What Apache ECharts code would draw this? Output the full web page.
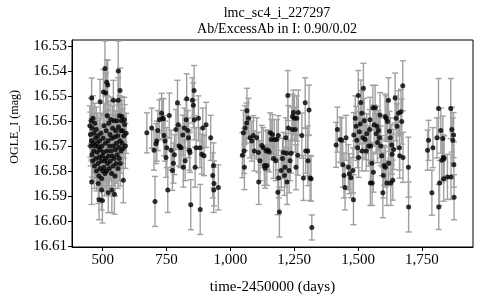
<!DOCTYPE html>
<html>
<head>
<meta charset="utf-8">
<script src="https://cdn.jsdelivr.net/npm/echarts@6/dist/echarts.min.js"></script>
<style>html,body{margin:0;padding:0;background:#fff}#c{width:480px;height:300px}</style>
</head>
<body>
<div id="c"></div>
<script>
// [time-2450000 (days), OGLE_I (mag), error (mag)]
var season1 = [
[509,16.5391,0.011],[561,16.5401,0.012],[516,16.5446,0.009],[520,16.5457,0.010],[503,16.5485,0.009],
[512,16.5489,0.008],[568,16.5479,0.009],[457,16.5509,0.008],[490,16.5524,0.009],[542,16.5518,0.008],
[561,16.5518,0.009],[585,16.5596,0.009],[575,16.5583,0.008],[483,16.5850,0.008],[457,16.5844,0.009],
[496,16.5876,0.008],[486,16.5915,0.008],[499,16.5918,0.009],[522,16.5887,0.008],[536,16.5876,0.009],
[546,16.5893,0.008],[581,16.5837,0.009],
[450,16.5620,0.008],[452,16.5655,0.009],[453,16.5700,0.008],[455,16.5600,0.009],[456,16.5680,0.008],
[458,16.5735,0.009],[459,16.5630,0.008],[461,16.5760,0.008],[462,16.5590,0.009],[463,16.5690,0.008],
[465,16.5720,0.009],[466,16.5650,0.008],[468,16.5780,0.009],[469,16.5610,0.008],[470,16.5700,0.009],
[472,16.5670,0.008],[473,16.5750,0.008],[475,16.5635,0.009],[476,16.5800,0.008],[478,16.5690,0.009],
[479,16.5725,0.008],[481,16.5660,0.009],[482,16.5770,0.008],[484,16.5705,0.008],[485,16.5820,0.009],
[487,16.5745,0.008],[488,16.5680,0.009],[490,16.5790,0.008],[491,16.5715,0.009],[493,16.5650,0.008],
[494,16.5760,0.008],[496,16.5830,0.009],[497,16.5700,0.008],[499,16.5740,0.009],[500,16.5800,0.008],
[502,16.5670,0.009],[503,16.5725,0.008],[505,16.5785,0.008],[506,16.5620,0.009],[508,16.5760,0.008],
[509,16.5810,0.009],[511,16.5690,0.008],[512,16.5750,0.009],[514,16.5640,0.008],[515,16.5800,0.008],
[517,16.5720,0.009],[518,16.5580,0.008],[520,16.5770,0.009],[521,16.5680,0.008],[523,16.5740,0.008],
[524,16.5610,0.009],[526,16.5790,0.008],[527,16.5700,0.009],[529,16.5655,0.008],[530,16.5760,0.008],
[532,16.5595,0.009],[533,16.5720,0.008],[535,16.5810,0.009],[536,16.5670,0.008],[538,16.5740,0.008],
[539,16.5630,0.009],[541,16.5780,0.008],[542,16.5700,0.009],[544,16.5600,0.008],[545,16.5750,0.008],
[547,16.5665,0.009],[548,16.5820,0.008],[550,16.5715,0.009],[551,16.5640,0.008],[553,16.5770,0.008],
[554,16.5690,0.009],[556,16.5600,0.008],[557,16.5735,0.009],[559,16.5660,0.008],[560,16.5790,0.008],
[562,16.5625,0.009],[563,16.5705,0.008],[565,16.5750,0.009],[566,16.5580,0.008],[568,16.5680,0.008],
[569,16.5770,0.009],[571,16.5640,0.008],[572,16.5720,0.009],[574,16.5600,0.008],[576,16.5690,0.008],
[578,16.5640,0.009],[580,16.5710,0.008],[583,16.5660,0.009],[586,16.5615,0.008],[589,16.5700,0.009],
[592,16.5650,0.008]
];
var season2 = [
[673,16.5648,0.008],[692,16.5629,0.008],[705,16.5922,0.010],[701,16.5717,0.008],[709,16.5691,0.008],
[712,16.5681,0.008],[716,16.5639,0.008],[722,16.5596,0.008],[731,16.5570,0.008],[733,16.5590,0.008],
[738,16.5592,0.008],[740,16.5659,0.008],[744,16.5681,0.008],[748,16.5746,0.008],[751,16.5707,0.008],
[755,16.5876,0.009],[761,16.5579,0.009],[768,16.5717,0.008],[773,16.5798,0.008],[777,16.5769,0.008],
[781,16.5735,0.008],[787,16.5635,0.008],[793,16.5528,0.009],[796,16.5616,0.008],[799,16.5700,0.008],
[803,16.5704,0.008],[807,16.5707,0.008],[814,16.5657,0.008],[816,16.5785,0.008],[820,16.5629,0.008],
[823,16.5759,0.008],[827,16.5596,0.008],[829,16.5512,0.010],[833,16.5639,0.008],[836,16.5668,0.008],
[840,16.5717,0.008],[842,16.5726,0.008],[845,16.5935,0.010],[851,16.5518,0.009],[855,16.5538,0.009],
[858,16.5479,0.010],[859,16.5596,0.008],[862,16.5785,0.008],[866,16.5707,0.008],[875,16.5590,0.009],
[881,16.5707,0.008],[882,16.5954,0.010],[888,16.5733,0.008],[892,16.5629,0.008],[897,16.5739,0.008],
[905,16.5616,0.009],[923,16.5668,0.009],[931,16.5818,0.009],[934,16.5778,0.009],[935,16.5876,0.009],
[936,16.5850,0.009],[953,16.5866,0.009]
];
var season3 = [
[1047,16.5737,0.009],[1055,16.5785,0.009],[1054,16.5720,0.009],[1051,16.5648,0.009],[1058,16.5629,0.009],
[1064,16.5609,0.008],[1065,16.5560,0.009],[1071,16.5590,0.008],[1077,16.5668,0.008],[1084,16.5681,0.008],
[1090,16.5659,0.008],[1094,16.5720,0.008],[1103,16.5668,0.008],[1110,16.5726,0.008],[1111,16.5844,0.009],
[1116,16.5759,0.008],[1123,16.5698,0.008],[1129,16.5707,0.008],[1133,16.5778,0.008],[1136,16.5789,0.008],
[1140,16.5720,0.008],[1143,16.5778,0.008],[1147,16.5716,0.008],[1152,16.5724,0.008],[1156,16.5648,0.008],
[1160,16.5675,0.008],[1165,16.5655,0.008],[1169,16.5750,0.008],[1172,16.5675,0.008],[1178,16.5759,0.008],
[1182,16.5675,0.008],[1186,16.5885,0.009],[1188,16.5659,0.008],[1189,16.5828,0.008],[1192,16.5964,0.010],
[1199,16.5798,0.008],[1204,16.5750,0.008],[1208,16.5726,0.008],[1212,16.5818,0.008],[1214,16.5785,0.008],
[1217,16.5668,0.008],[1221,16.5729,0.008],[1222,16.5844,0.009],[1225,16.5499,0.010],[1227,16.5629,0.009],
[1230,16.5798,0.009],[1234,16.5759,0.008],[1238,16.5729,0.008],[1241,16.5635,0.009],[1243,16.5583,0.009],
[1247,16.5567,0.009],[1251,16.5590,0.009],[1254,16.5635,0.009],[1257,16.5785,0.009],[1260,16.5590,0.009],
[1264,16.5737,0.008],[1266,16.5567,0.009],[1280,16.5659,0.009],[1286,16.5828,0.009],[1293,16.5528,0.010],
[1295,16.5720,0.009],[1303,16.5720,0.010],[1304,16.5759,0.010],[1308,16.5557,0.010],[1312,16.5828,0.009],
[1316,16.5831,0.009],[1319,16.6026,0.005]
];
var season4 = [
[1414,16.5696,0.009],[1419,16.5635,0.009],[1430,16.5675,0.009],[1436,16.5678,0.009],[1440,16.5775,0.009],
[1445,16.5818,0.009],[1449,16.5866,0.009],[1453,16.5668,0.009],[1462,16.5785,0.009],[1466,16.5811,0.008],
[1472,16.5827,0.008],[1480,16.5798,0.009],[1482,16.5915,0.010],[1483,16.5657,0.009],[1489,16.5590,0.009],
[1492,16.5622,0.008],[1495,16.5678,0.008],[1498,16.5707,0.008],[1501,16.5499,0.010],[1502,16.5746,0.008],
[1505,16.5644,0.008],[1508,16.5613,0.008],[1511,16.5527,0.009],[1515,16.5570,0.009],[1516,16.5720,0.008],
[1519,16.5668,0.008],[1521,16.5470,0.010],[1524,16.5600,0.009],[1528,16.5675,0.008],[1532,16.5720,0.008],
[1534,16.5652,0.008],[1541,16.5700,0.008],[1545,16.5635,0.008],[1547,16.5596,0.009],[1548,16.5848,0.009],
[1550,16.5700,0.008],[1554,16.5769,0.008],[1555,16.5848,0.009],[1558,16.5548,0.009],[1560,16.5805,0.008],
[1563,16.5616,0.008],[1567,16.5548,0.009],[1571,16.5652,0.008],[1574,16.5622,0.008],[1576,16.5687,0.008],
[1580,16.5639,0.008],[1584,16.5668,0.008],[1586,16.5577,0.009],[1589,16.5700,0.008],[1593,16.5739,0.008],
[1597,16.5887,0.010],[1599,16.5818,0.009],[1602,16.5778,0.008],[1606,16.5583,0.009],[1607,16.5785,0.008],
[1610,16.5590,0.009],[1613,16.5848,0.009],[1615,16.5603,0.008],[1619,16.5518,0.009],[1620,16.5769,0.009],
[1623,16.5642,0.008],[1626,16.5668,0.008],[1628,16.5848,0.009],[1632,16.5696,0.008],[1633,16.5733,0.008],
[1636,16.5837,0.008],[1639,16.5714,0.008],[1645,16.5509,0.010],[1649,16.5590,0.009],[1652,16.5622,0.009],
[1658,16.5570,0.009],[1662,16.5707,0.009],[1663,16.5739,0.009],[1668,16.5564,0.009],[1671,16.5603,0.009],
[1675,16.5460,0.010],[1676,16.5746,0.010],[1697,16.5785,0.012],[1698,16.5944,0.010]
];
var season5 = [
[1772,16.5717,0.008],[1776,16.5678,0.008],[1789,16.5887,0.009],[1793,16.5707,0.008],[1809,16.5668,0.008],
[1815,16.5551,0.012],[1816,16.5944,0.009],[1819,16.5848,0.009],[1824,16.5639,0.009],[1828,16.5757,0.009],
[1832,16.5671,0.009],[1834,16.5746,0.009],[1835,16.5831,0.009],[1837,16.5750,0.009],[1850,16.5824,0.009],
[1863,16.5551,0.012],[1864,16.5824,0.009],[1867,16.5635,0.009],[1871,16.5678,0.009],[1874,16.5657,0.009],
[1875,16.5775,0.009],[1876,16.5905,0.009]
];
var yTicks = [16.53,16.54,16.55,16.56,16.57,16.58,16.59,16.60,16.61];
var xTicks = [500,750,1000,1250,1500,1750];
var titleLines = ['lmc_sc4_i_227297','Ab/ExcessAb in I: 0.90/0.02'];

var allPts = season1.concat(season2, season3, season4, season5);
var FONT = '"Liberation Serif", "DejaVu Serif", serif';

var chart = echarts.init(document.getElementById('c'), null, {renderer:'canvas'});
chart.setOption({
  animation:false,
  backgroundColor:'#fff',
  title:{
    text: titleLines.join('\n'),
    left: 272, top: 0, textAlign:'center',
    textStyle:{fontFamily:FONT, fontSize:14, fontWeight:'normal', color:'#000', lineHeight:16}
  },
  grid:{left:72, right:7, top:40, bottom:48, show:true, borderColor:'#000', borderWidth:1, backgroundColor:'transparent'},
  graphic:[{
    type:'text', left:9, top:90, rotation:Math.PI/2,
    style:{text:'OGLE_I (mag)', font:'12px "Liberation Serif", serif', fill:'#000'}
  }],
  xAxis:{
    type:'value', min:380, max:1950,
    name:'time-2450000 (days)', nameLocation:'middle', nameGap:33,
    nameTextStyle:{fontFamily:FONT, fontSize:15, color:'#000'},
    axisLine:{show:true, onZero:false, lineStyle:{color:'#000', width:1}},
    axisTick:{show:true, length:4, customValues:xTicks, lineStyle:{color:'#000'}},
    axisLabel:{customValues:xTicks, margin:6, fontFamily:FONT, fontSize:15, color:'#000',
      formatter:function(v){return v.toLocaleString('en-US');}},
    splitLine:{show:false}
  },
  yAxis:{
    type:'value', inverse:true, min:16.5277, max:16.6104,
    axisLine:{show:true, onZero:false, lineStyle:{color:'#000', width:1}},
    axisTick:{show:true, length:4, customValues:yTicks, lineStyle:{color:'#000'}},
    axisLabel:{customValues:yTicks, margin:5, fontFamily:FONT, fontSize:15, color:'#000',
      formatter:function(v){return v.toFixed(2);}},
    splitLine:{show:false}
  },
  series:[
    {
      type:'custom', data:allPts, clip:true, z:2,
      renderItem:function(params, api){
        var x = api.value(0), y = api.value(1), e = api.value(2);
        var lo = api.coord([x, y - e]), hi = api.coord([x, y + e]);
        var st = {stroke:'#a0a0a0', lineWidth:1.4};
        var hw = 3;
        return {type:'group', children:[
          {type:'line', shape:{x1:lo[0], y1:lo[1], x2:hi[0], y2:hi[1]}, style:st},
          {type:'line', shape:{x1:lo[0]-hw, y1:lo[1], x2:lo[0]+hw, y2:lo[1]}, style:st},
          {type:'line', shape:{x1:hi[0]-hw, y1:hi[1], x2:hi[0]+hw, y2:hi[1]}, style:st}
        ]};
      },
      encode:{x:0, y:1}
    },
    {
      type:'scatter', data:allPts.map(function(p){return [p[0], p[1]];}), symbolSize:5, z:3,
      itemStyle:{color:'#000'}
    }
  ]
});
</script>
</body>
</html>
